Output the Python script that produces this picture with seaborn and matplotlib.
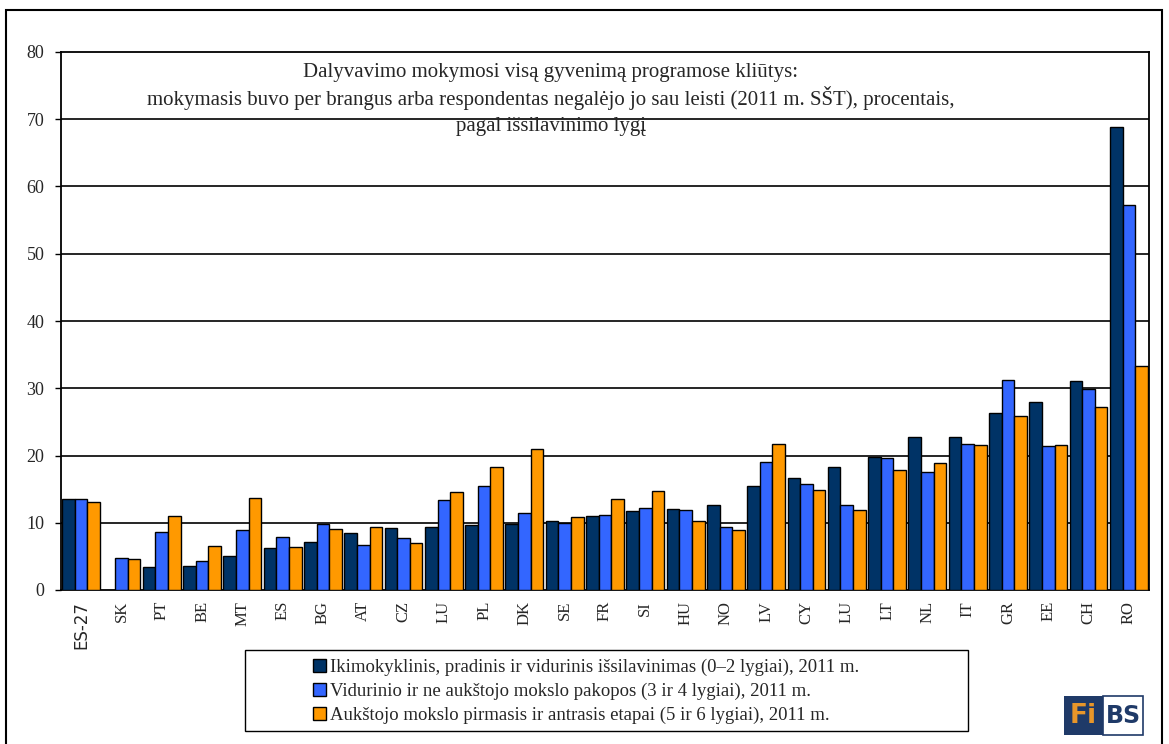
import matplotlib
matplotlib.use("Agg")
import matplotlib.pyplot as plt
import numpy as np
import pandas as pd
import seaborn as sns
from matplotlib.patches import Rectangle

# duomenys nuskaityti nuo paveikslo
countries = ['ES-27', 'SK', 'PT', 'BE', 'MT', 'ES', 'BG', 'AT', 'CZ', 'LU', 'PL', 'DK', 'SE', 'FR',
             'SI', 'HU', 'NO', 'LV', 'CY', 'LU', 'LT', 'NL', 'IT', 'GR', 'EE', 'CH', 'RO']
level_0_2 = [13.5, np.nan, 3.4, 3.5, 5.0, 6.2, 7.1, 8.5, 9.2, 9.4, 9.6, 9.8, 10.2, 11.0,
             11.8, 12.1, 12.6, 15.5, 16.7, 18.3, 19.8, 22.7, 22.7, 26.3, 27.9, 31.1, 68.8]
level_3_4 = [13.5, 4.8, 8.6, 4.3, 8.9, 7.9, 9.8, 6.7, 7.7, 13.4, 15.5, 11.4, 10.0, 11.1,
             12.2, 11.9, 9.3, 19.0, 15.8, 12.7, 19.6, 17.6, 21.7, 31.3, 21.4, 29.9, 57.2]
level_5_6 = [13.1, 4.6, 11.0, 6.5, 13.7, 6.4, 9.0, 9.3, 7.0, 14.5, 18.3, 21.0, 10.8, 13.5,
             14.7, 10.3, 8.9, 21.7, 14.9, 11.9, 17.9, 18.9, 21.5, 25.8, 21.6, 27.2, 33.3]

levels = ['Ikimokyklinis, pradinis ir vidurinis išsilavinimas (0–2 lygiai), 2011 m.',
          'Vidurinio ir ne aukštojo mokslo pakopos (3 ir 4 lygiai), 2011 m.',
          'Aukštojo mokslo pirmasis ir antrasis etapai (5 ir 6 lygiai), 2011 m.']
colors = ['#003366', '#3366FF', '#FF9900']

title_lines = ['Dalyvavimo mokymosi visą gyvenimą programose kliūtys:',
               'mokymasis buvo per brangus arba respondentas negalėjo jo sau leisti (2011 m. SŠT), procentais,',
               'pagal išsilavinimo lygį']

rows = []
for lvl, vals in zip(levels, [level_0_2, level_3_4, level_5_6]):
    for i, v in enumerate(vals):
        rows.append({'pos': i, 'level': lvl, 'value': v})
df = pd.DataFrame(rows).dropna()

sns.set_style('white')
plt.rcParams['font.family'] = ['Liberation Serif', 'DejaVu Serif']

W, H = 1169, 744
fig = plt.figure(figsize=(W / 100, H / 100), dpi=100)
ax = fig.add_axes([61 / W, 1 - 590 / H, (1149 - 61) / W, (590 - 52) / H])

sns.barplot(data=df, x='pos', y='value', hue='level', hue_order=levels, order=list(range(len(countries))),
            palette=colors, saturation=1, edgecolor='black', linewidth=1.0, width=0.94, errorbar=None,
            legend=False, ax=ax, zorder=3)

ax.set_xlim(-0.5, len(countries) - 0.5)
ax.set_ylim(0, 80)
ax.set_yticks(range(0, 81, 10))
ax.set_yticklabels([str(t) for t in range(0, 81, 10)], fontsize=13)
for y in range(10, 80, 10):
    ax.axhline(y, color='black', lw=1.2, zorder=1)

ax.set_xticks(range(len(countries)))
ax.set_xticklabels(countries, rotation=90, fontsize=12)
ax.set_xticks(np.arange(-0.5, len(countries), 1), minor=True)
ax.tick_params(axis='x', which='major', length=0, pad=8)
ax.tick_params(axis='x', which='minor', length=6, width=1, color='black', direction='out')
ax.tick_params(axis='y', length=4, width=1, color='black', direction='out', left=True, pad=8)
lbl = ax.get_xticklabels()[0]
lbl.set_family(['DejaVu Sans'])
lbl.set_fontsize(12)
ax.set_xlabel('')
ax.set_ylabel('')
for s in ax.spines.values():
    s.set_visible(True)
    s.set_color('black')
    s.set_linewidth(1.3)

# pavadinimas
for txt, yp in zip(title_lines, [72, 98, 127]):
    fig.text(551 / W, 1 - yp / H, txt, ha='center', va='center', fontsize=15)

# legenda
fig.add_artist(Rectangle((245 / W, 1 - 731 / H), (968 - 245) / W, (731 - 650) / H,
                         transform=fig.transFigure, fill=False, edgecolor='black', lw=1.0))
handles = [Rectangle((0, 0), 1, 1, facecolor=c, edgecolor='black', lw=1) for c in colors]
fig.legend(handles, levels, loc='upper left', bbox_to_anchor=(300 / W, 1 - 646 / H), frameon=False,
           fontsize=13.5, handlelength=0.7, handleheight=0.7, handletextpad=0.2, labelspacing=0.35,
           borderpad=0.2)

# FiBS logotipas
fig.add_artist(Rectangle((1064 / W, 1 - 735 / H), 39 / W, 39 / H, transform=fig.transFigure,
                         facecolor='#1F3A68', edgecolor='none'))
fig.add_artist(Rectangle((1103 / W, 1 - 735 / H), 40 / W, 39 / H, transform=fig.transFigure,
                         facecolor='white', edgecolor='#1F3A68', lw=1.2))
fig.text(1083 / W, 1 - 716 / H, 'Fi', ha='center', va='center', fontsize=19, fontweight='bold',
         color='#E8962A', family='DejaVu Sans')
fig.text(1123 / W, 1 - 716 / H, 'BS', ha='center', va='center', fontsize=17, fontweight='bold',
         color='#1F3A68', family='DejaVu Sans')

# išorinis rėmelis
fig.add_artist(Rectangle((6 / W, -0.01), (1162 - 6) / W, 1 - 10 / H + 0.01, transform=fig.transFigure,
                         fill=False, edgecolor='black', lw=1.5))

fig.savefig('out.png', dpi=100)
